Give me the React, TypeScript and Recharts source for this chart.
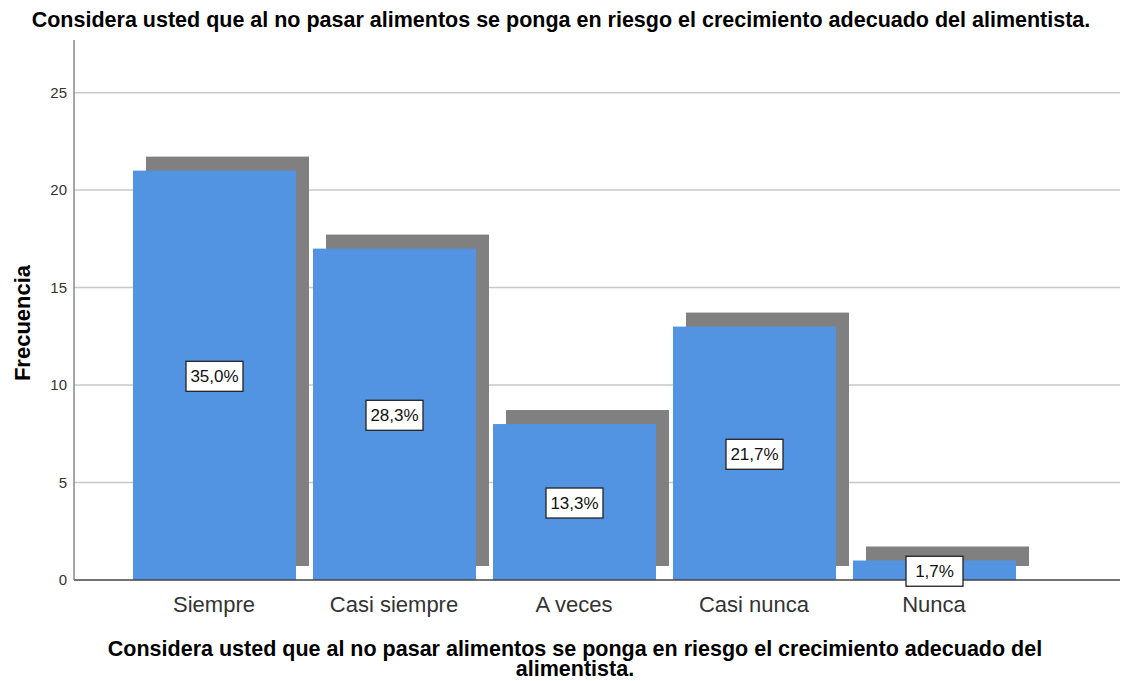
import { Bar, BarChart, CartesianGrid, LabelList, XAxis, YAxis } from "recharts";

const categories = ["Siempre", "Casi siempre", "A veces", "Casi nunca", "Nunca"];
const frequencies = [21, 17, 8, 13, 1];
const percentLabels = ["35,0%", "28,3%", "13,3%", "21,7%", "1,7%"];
const yTicks = [0, 5, 10, 15, 20, 25];
const gridValues = [5, 10, 15, 20, 25];

const titleText =
    "Considera usted que al no pasar alimentos se ponga en riesgo el crecimiento adecuado del alimentista.";
const xTitleLine1 =
    "Considera usted que al no pasar alimentos se ponga en riesgo el crecimiento adecuado del";
const xTitleLine2 = "alimentista.";

const data = categories.map((name, i) => ({
    name,
    value: frequencies[i],
    pct: percentLabels[i],
}));

const FONT = "'Liberation Sans', Arial, sans-serif";

// bar with the offset gray shadow behind it, like the SPSS 3D-ish style
function ShadowBar(props: any) {
    const { x, y, width, height } = props;
    if (!height) return null;
    return (
        <g>
            <rect x={x + 13} y={y - 14} width={width} height={height} fill="#808080" />
            <rect x={x} y={y} width={width} height={height} fill="#5294e2" />
        </g>
    );
}

function PctLabel(props: any) {
    const { x, y, width, height, value } = props;
    const cx = x + width / 2;
    const cy = y + height / 2 + 1;
    const w = 57;
    const h = 30;
    return (
        <g>
            <rect
                x={cx - w / 2}
                y={cy - h / 2}
                width={w}
                height={h}
                fill="#ffffff"
                stroke="#222222"
                strokeWidth={1.3}
            />
            <text
                x={cx}
                y={cy + 1}
                textAnchor="middle"
                dominantBaseline="middle"
                fontFamily={FONT}
                fontSize={17}
                fill="#111111"
            >
                {value}
            </text>
        </g>
    );
}

export default function App() {
    return (
        <div
            style={{
                position: "absolute",
                left: 0,
                top: 0,
                width: 1122,
                height: 681,
                background: "#ffffff",
                fontFamily: FONT,
            }}
        >
            <div
                style={{
                    position: "absolute",
                    left: 0,
                    top: 8,
                    width: 1122,
                    textAlign: "center",
                    fontWeight: "bold",
                    fontSize: 21.5,
                    whiteSpace: "nowrap",
                    color: "#000",
                }}
            >
                {titleText}
            </div>
            <BarChart
                width={1122}
                height={681}
                data={data}
                margin={{ top: 40, right: 2, bottom: 71, left: 0 }}
            >
                <CartesianGrid
                    vertical={false}
                    horizontalValues={gridValues}
                    stroke="#c8c8c8"
                    strokeWidth={1.5}
                />
                <XAxis
                    dataKey="name"
                    height={30}
                    padding={{ left: 50, right: 96 }}
                    tickLine={false}
                    axisLine={{ stroke: "#444444", strokeWidth: 1.3 }}
                    tick={{ fontSize: 22, fill: "#333333", fontFamily: FONT }}
                    tickMargin={10}
                />
                <YAxis
                    width={74}
                    domain={[0, 27.7]}
                    ticks={yTicks}
                    tickLine={false}
                    axisLine={{ stroke: "#888888", strokeWidth: 1.5 }}
                    tick={{ fontSize: 15, fill: "#333333", fontFamily: FONT }}
                    tickMargin={1}
                />
                <Bar dataKey="value" barSize={163} shape={ShadowBar} isAnimationActive={false}>
                    <LabelList dataKey="pct" content={PctLabel} />
                </Bar>
            </BarChart>
            <div
                style={{
                    position: "absolute",
                    left: 23,
                    top: 323,
                    transform: "translate(-50%, -50%) rotate(-90deg)",
                    fontWeight: "bold",
                    fontSize: 22,
                    whiteSpace: "nowrap",
                    color: "#000",
                }}
            >
                Frecuencia
            </div>
            <div
                style={{
                    position: "absolute",
                    left: 0,
                    top: 639,
                    width: 1150,
                    textAlign: "center",
                    fontWeight: "bold",
                    fontSize: 21.5,
                    lineHeight: "20px",
                    whiteSpace: "nowrap",
                    color: "#000",
                }}
            >
                <div>{xTitleLine1}</div>
                <div>{xTitleLine2}</div>
            </div>
        </div>
    );
}
